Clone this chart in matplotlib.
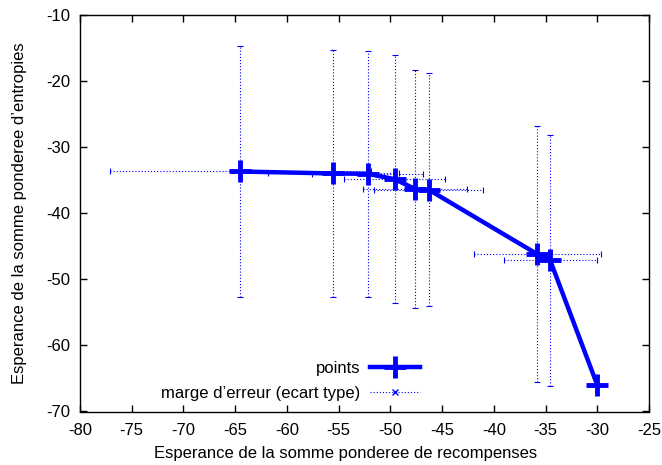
import matplotlib
matplotlib.use("Agg")
import matplotlib.pyplot as plt
from matplotlib.lines import Line2D

# Data
x_vals = [-64.5, -55.5, -52.2, -49.6, -47.6, -46.3, -35.8, -34.55, -30.0]
y_vals = [-33.7, -34.0, -34.05, -34.85, -36.35, -36.45, -46.2, -47.15, -66.0]
x_err = [12.6, 6.3, 5.35, 4.87, 5.0, 5.28, 6.12, 4.51, 0.0]
y_err = [18.94, 18.65, 18.6, 18.7, 17.98, 17.6, 19.41, 18.94, 0.0]

x_ticks = [-80, -75, -70, -65, -60, -55, -50, -45, -40, -35, -30, -25]
y_ticks = [-70, -60, -50, -40, -30, -20, -10]

plt.rcParams['font.family'] = ['Liberation Sans', 'DejaVu Sans']
plt.rcParams['font.size'] = 12
plt.rcParams['axes.unicode_minus'] = False

fig = plt.figure(figsize=(6.62, 4.65), dpi=100)
ax = fig.add_axes([80/662, 1-411.5/465, (649-80)/662, (411.5-14.8)/465])

eb = ax.errorbar(x_vals, y_vals, xerr=x_err, yerr=y_err, fmt='none',
                 ecolor='#0000ff', elinewidth=0.8, capsize=2, capthick=0.8, zorder=2)
for lc in eb[2]:
    lc.set_linestyle((0, (1, 1.8)))

ax.plot(x_vals, y_vals, color='#0000ff', lw=3.2, marker='+', markersize=16,
        markeredgewidth=3.5, zorder=3)

ax.set_xlim(-80, -25)
ax.set_ylim(-70, -10)
ax.set_xticks(x_ticks)
ax.set_yticks(y_ticks)
ax.tick_params(axis='both', direction='in', length=5, width=1, top=True, right=True)
ax.tick_params(axis='x', pad=8)
ax.tick_params(axis='y', pad=7)
for s in ax.spines.values():
    s.set_linewidth(1)

ax.set_xlabel('Esperance de la somme ponderee de recompenses')
ax.set_ylabel("Esperance de la somme ponderee d\u2019entropies")
ax.xaxis.set_label_coords((346-80)/569, -(453-411.5)/396.7)
ax.yaxis.set_label_coords(-(80-20)/569, 0.5)
ax.xaxis.label.set_va('center')
ax.yaxis.label.set_va('center')

h_points = Line2D([], [], color='#0000ff', lw=3.2, marker='+', markersize=16,
                  markeredgewidth=3.5)
h_err = Line2D([], [], color='#0000ff', lw=0.8, ls=(0, (1, 1.8)), marker='x',
               markersize=5, markeredgewidth=1)

leg1 = ax.legend([h_points], ['points'], loc='center right', frameon=False,
                 markerfirst=False, numpoints=1, handlelength=3.0,
                 bbox_to_anchor=((420-80)/569, 1-(368-14.8)/396.7), borderpad=0,
                 borderaxespad=0, handletextpad=0.6)
ax.add_artist(leg1)
leg2 = ax.legend([h_err], ["marge d\u2019erreur (ecart type)"], loc='center right',
                 frameon=False, markerfirst=False, numpoints=1, handlelength=3.0,
                 bbox_to_anchor=((420-80)/569, 1-(393.5-14.8)/396.7), borderpad=0,
                 borderaxespad=0, handletextpad=0.6)

fig.savefig('out.png', dpi=100)
